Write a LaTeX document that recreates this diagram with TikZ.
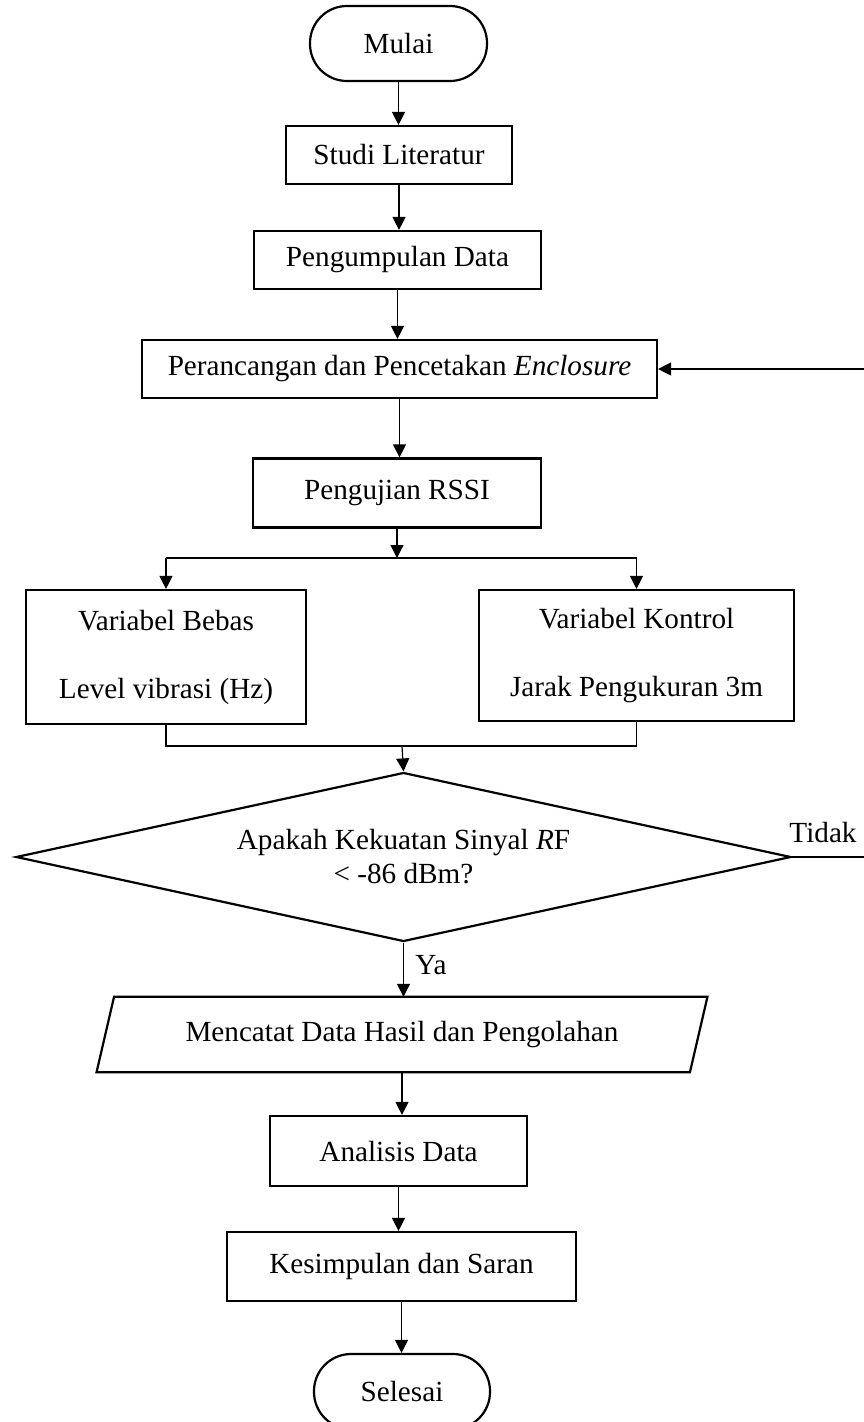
\documentclass[tikz,border=0pt]{standalone}
\usepackage{fontspec}
\setmainfont{Liberation Serif}
\usetikzlibrary{arrows.meta,shapes.geometric}
\begin{document}
\begin{tikzpicture}[x=1pt,y=-1pt,
  font=\fontsize{29.2}{34}\selectfont,
  box/.style={draw,line width=2.2pt,inner sep=0pt,align=center},
  term/.style={box,rounded corners=37pt,minimum width=177pt,minimum height=75pt},
  dec/.style={draw,shape=diamond,line width=2.2pt,inner sep=0pt,aspect=4.59,minimum width=775pt,minimum height=169pt,align=center},
  conn/.style={line width=1.2pt},
  arr/.style={conn,-{Triangle[length=13pt,width=13pt]}},
  lbl/.style={inner sep=0pt}]
\useasboundingbox (0,0) rectangle (863,1422);
\node[term] (mulai) at (398.5,43.5) {Mulai};
\node[box,minimum width=226pt,minimum height=58pt] (studi) at (399,155) {Studi Literatur};
\node[box,minimum width=287pt,minimum height=58pt] (kumpul) at (397.5,260) {Pengumpulan Data};
\node[box,minimum width=515pt,minimum height=58pt] (rancang) at (399.5,369) {Perancangan dan Pencetakan \textit{Enclosure}};
\node[box,minimum width=288pt,minimum height=69pt] (uji) at (397,493) {Pengujian RSSI};
\node[box,minimum width=280pt,minimum height=134pt] (bebas) at (166,657) {Variabel Bebas\\[34pt]Level vibrasi (Hz)};
\node[box,minimum width=315pt,minimum height=131pt] (kontrol) at (636.5,655.5) {Variabel Kontrol\\[34pt]Jarak Pengukuran 3m};
\node[dec] (dec) at (403.5,857) {Apakah Kekuatan Sinyal \textit{R}F\\< -86 dBm?};
\node[minimum width=593pt,minimum height=75pt,inner sep=0pt] (catat) at (402,1034.5) {Mencatat Data Hasil dan Pengolahan};
\draw[line width=2.2pt,line join=miter] ([xshift=-8.75pt]catat.south west) -- ([xshift=-8.75pt]catat.south east) -- ([xshift=8.75pt]catat.north east) -- ([xshift=8.75pt]catat.north west) -- cycle;
\node[box,minimum width=257pt,minimum height=70pt] (analisis) at (398.5,1151) {Analisis Data};
\node[box,minimum width=349pt,minimum height=69pt] (simpul) at (401.5,1266.5) {Kesimpulan dan Saran};
\node[term,minimum width=176pt] (selesai) at (402,1391.5) {Selesai};
\coordinate (sp) at (401,558);
\coordinate (jn) at (402,746);
\coordinate (fb) at (885,857);
\draw[arr] (mulai.south) -- (mulai.south |- studi.north);
\draw[arr] (studi.south) -- (studi.south |- kumpul.north);
\draw[arr] (kumpul.south) -- (kumpul.south |- rancang.north);
\draw[arr] (rancang.south) -- (rancang.south |- uji.north);
\draw[arr] (uji.south) -- (uji.south |- sp);
\draw[conn] (bebas.north |- sp) -- (kontrol.north |- sp);
\draw[arr] (bebas.north |- sp) -- (bebas.north);
\draw[arr] (kontrol.north |- sp) -- (kontrol.north);
\draw[conn] (bebas.south) -- (bebas.south |- jn) -- (kontrol.south |- jn) -- (kontrol.south);
\draw[arr] (jn) -- (dec.north);
\draw[arr] (dec.south) -- (dec.south |- catat.north);
\draw[arr] (catat.south) -- (catat.south |- analisis.north);
\draw[arr] (analisis.south) -- (analisis.south |- simpul.north);
\draw[arr] (simpul.south) -- (simpul.south |- selesai.north);
\draw[arr] (dec.east) -- (fb) |- (rancang.east);
\node[lbl] (tidak) at (823,833) {Tidak};
\node[lbl] (ya) at (431,965) {Ya};
\end{tikzpicture}
\end{document}
